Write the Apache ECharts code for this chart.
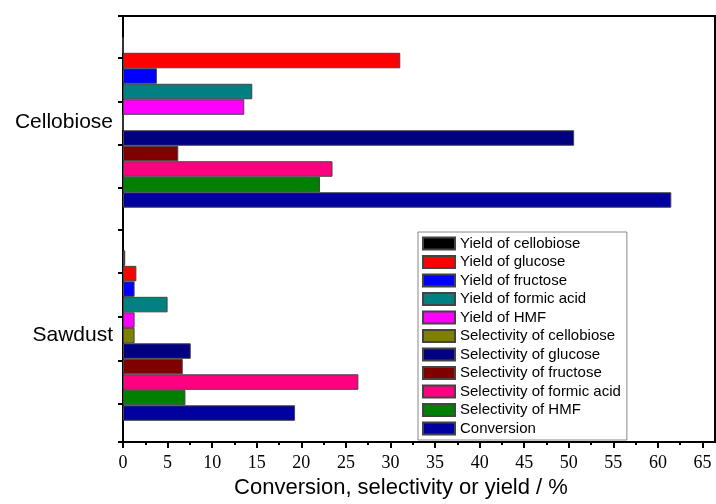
<!DOCTYPE html>
<html>
<head>
<meta charset="utf-8">
<style>html,body{margin:0;padding:0;background:#fff;}#c{width:716px;height:504px;}</style>
<script src="https://cdn.jsdelivr.net/npm/echarts@6/dist/echarts.min.js"></script>
</head>
<body>
<div id="c"></div>
<script>
// Categories (bottom to top)
const categories = ['Sawdust', 'Cellobiose'];
// Series names (legend order, top bar first within each group)
const seriesNames = [
  'Yield of cellobiose', 'Yield of glucose', 'Yield of fructose', 'Yield of formic acid', 'Yield of HMF',
  'Selectivity of cellobiose', 'Selectivity of glucose', 'Selectivity of fructose',
  'Selectivity of formic acid', 'Selectivity of HMF', 'Conversion'
];
const seriesColors = ['#000000', '#FF0000', '#0000FF', '#008080', '#FF00FF',
  '#808000', '#000080', '#800000', '#FF0080', '#008000', '#0000A0'];
// Values: [Sawdust, Cellobiose]
const yieldCellobiose = [0.25, 0];
const yieldGlucose = [1.5, 31.1];
const yieldFructose = [1.3, 3.8];
const yieldFormic = [5.0, 14.5];
const yieldHMF = [1.3, 13.6];
const selCellobiose = [1.3, 0];
const selGlucose = [7.6, 50.6];
const selFructose = [6.7, 6.2];
const selFormic = [26.4, 23.5];
const selHMF = [7.0, 22.1];
const conversion = [19.3, 61.5];
const seriesValues = [yieldCellobiose, yieldGlucose, yieldFructose, yieldFormic, yieldHMF,
  selCellobiose, selGlucose, selFructose, selFormic, selHMF, conversion];
// Axis ticks
const xMajorTicks = [0, 5, 10, 15, 20, 25, 30, 35, 40, 45, 50, 55, 60, 65];
const xMinorTicks = [2.5, 7.5, 12.5, 17.5, 22.5, 27.5, 32.5, 37.5, 42.5, 47.5, 52.5, 57.5, 62.5];
const yTicks = [0, 0.89, 1.92, 2.94, 3.97, 4.98, 5.98, 6.99, 7.99, 9.02, 10];

const chart = echarts.init(document.getElementById('c'), null, {renderer: 'canvas'});
const series = seriesNames.map((n, i) => ({
  name: n,
  type: 'bar',
  xAxisIndex: 0,
  yAxisIndex: 0,
  data: seriesValues[i],
  barGap: '0%',
  barCategoryGap: '20%',
  itemStyle: {color: seriesColors[i], borderColor: '#444', borderWidth: 1},
  emphasis: {disabled: true}
}));
chart.setOption({
  animation: false,
  grid: {left: 123, right: 1, top: 16, bottom: 60, show: true, borderColor: '#000', borderWidth: 2, backgroundColor: 'transparent'},
  legend: {
    orient: 'vertical', left: 418, top: 232,
    padding: [4, 6, 4, 4],
    itemWidth: 32, itemHeight: 12, itemGap: 3.5,
    icon: 'rect',
    data: seriesNames,
    backgroundColor: '#fff', borderColor: '#888', borderWidth: 1,
    textStyle: {fontFamily: 'Liberation Sans', fontSize: 15, lineHeight: 15, color: '#000'},
    selectedMode: false
  },
  xAxis: [{
    type: 'value', min: 0, max: 66.4, interval: 5,
    name: 'Conversion, selectivity or yield / %',
    nameLocation: 'middle', nameGap: 32,
    nameTextStyle: {fontFamily: 'Liberation Sans', fontSize: 22, color: '#000', padding: [0, 36, 0, 0]},
    axisLine: {show: true, lineStyle: {color: '#000', width: 2}},
    axisTick: {show: true, length: 6, inside: false, lineStyle: {color: '#000', width: 2}, customValues: xMajorTicks},
    axisLabel: {fontFamily: 'Liberation Serif', fontSize: 18, color: '#000', margin: 12, customValues: xMajorTicks},
    splitLine: {show: false}
  }, {
    type: 'value', min: 0, max: 66.4, position: 'bottom',
    axisLine: {show: false},
    axisTick: {show: true, length: 3, inside: false, lineStyle: {color: '#000', width: 2}, customValues: xMinorTicks},
    axisLabel: {show: false},
    splitLine: {show: false}
  }],
  yAxis: [{
    type: 'category', data: categories,
    axisLine: {show: true, lineStyle: {color: '#000', width: 2}},
    axisTick: {show: false},
    axisLabel: {fontFamily: 'Liberation Sans', fontSize: 21, color: '#000', margin: 10, padding: [0, 0, 6, 0]},
    splitLine: {show: false}
  }, {
    type: 'value', min: 0, max: 10, position: 'left',
    axisLine: {show: false},
    axisTick: {show: true, length: 5, inside: false, lineStyle: {color: '#000', width: 2}, customValues: yTicks},
    axisLabel: {show: false},
    splitLine: {show: false}
  }],
  series: series
});
</script>
</body>
</html>
